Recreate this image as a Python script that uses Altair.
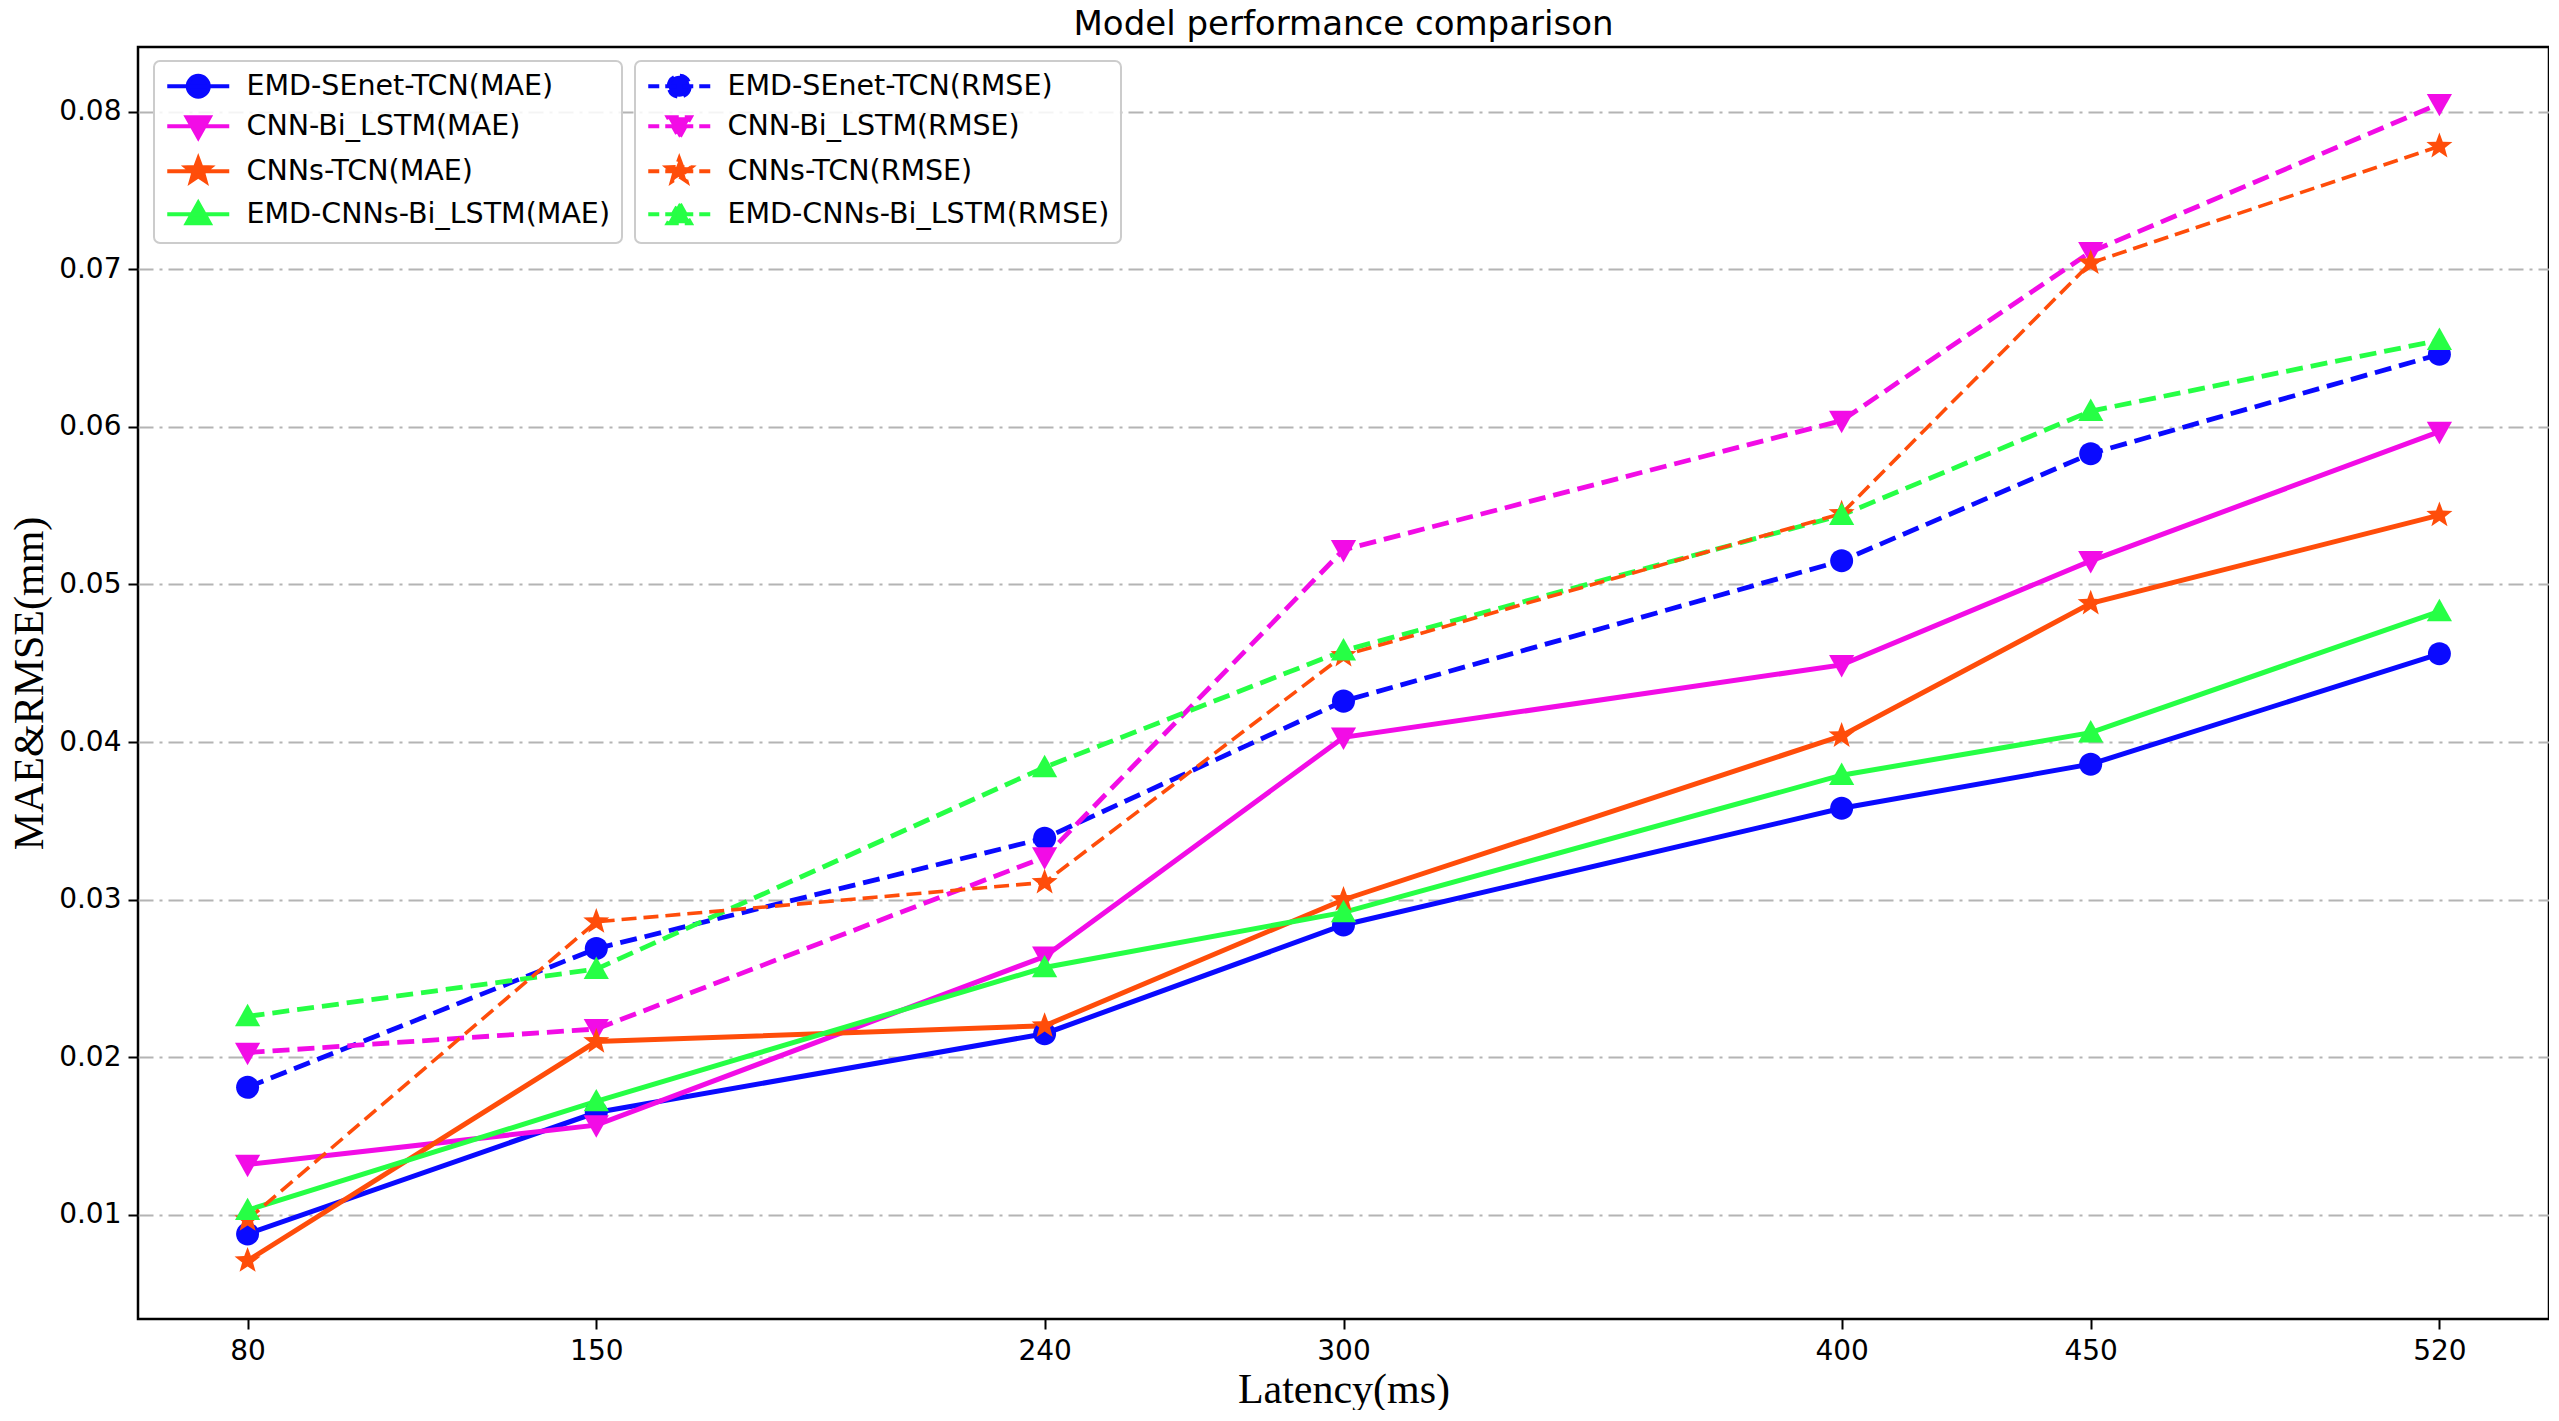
import math
import altair as alt
import pandas as pd

latency = [80, 150, 240, 300, 400, 450, 520]
models = ["EMD-SEnet-TCN", "CNN-Bi_LSTM", "CNNs-TCN", "EMD-CNNs-Bi_LSTM"]

mae_senet = [0.0088, 0.0165, 0.0215, 0.0284, 0.0358, 0.0386, 0.0456]
mae_cnnbilstm = [0.0132, 0.0157, 0.0264, 0.0403, 0.0449, 0.0515, 0.0597]
mae_cnnstcn = [0.0071, 0.0210, 0.0220, 0.0300, 0.0404, 0.0488, 0.0544]
mae_emdcnns = [0.0103, 0.0172, 0.0257, 0.0292, 0.0379, 0.0406, 0.0483]

rmse_senet = [0.0181, 0.0269, 0.0339, 0.0426, 0.0515, 0.0583, 0.0646]
rmse_cnnbilstm = [0.0203, 0.0218, 0.0327, 0.0522, 0.0604, 0.0711, 0.0805]
rmse_cnnstcn = [0.0097, 0.0286, 0.0311, 0.0455, 0.0545, 0.0704, 0.0778]
rmse_emdcnns = [0.0226, 0.0256, 0.0384, 0.0458, 0.0544, 0.0610, 0.0655]

mae_values = [mae_senet, mae_cnnbilstm, mae_cnnstcn, mae_emdcnns]
rmse_values = [rmse_senet, rmse_cnnbilstm, rmse_cnnstcn, rmse_emdcnns]

y_ticks = [0.01, 0.02, 0.03, 0.04, 0.05, 0.06, 0.07, 0.08]

colors = ["#0a0aff", "#f20ce6", "#ff4d0a", "#26ff45"]

rows = []
for m, mv, rv in zip(models, mae_values, rmse_values):
    for lat, a, b in zip(latency, mv, rv):
        rows.append({"latency": lat, "value": a, "metric": "MAE", "key": f"{m}(MAE)"})
        rows.append({"latency": lat, "value": b, "metric": "RMSE", "key": f"{m}(RMSE)"})
df = pd.DataFrame(rows)

mae_keys = [f"{m}(MAE)" for m in models]
rmse_keys = [f"{m}(RMSE)" for m in models]
all_keys = mae_keys + rmse_keys

# marker outlines (units of 10px when symbol size = 400)
def star_path(ro=1.25, ri=0.52):
    pts = []
    for i in range(10):
        r = ro if i % 2 == 0 else ri
        a = -math.pi / 2 + i * math.pi / 5
        pts.append(f"{r*math.cos(a):.3f},{r*math.sin(a):.3f}")
    return "M" + "L".join(pts) + "Z"

marker_paths = [
    "M-1.05,0A1.05,1.05,0,1,1,1.05,0A1.05,1.05,0,1,1,-1.05,0Z",
    "M-1.15,-0.9L1.15,-0.9L0,1.15Z",
    star_path(),
    "M-1.15,0.9L1.15,0.9L0,-1.15Z",
]
line_seg = "M-3.1,0L3.1,0"
handle_paths = [line_seg + p for p in marker_paths]

x_enc = alt.X(
    "latency:Q",
    scale=alt.Scale(domain=[58, 542], nice=False, zero=False),
    axis=alt.Axis(values=latency, format="d", title="Latency(ms)", grid=False),
)
y_enc = alt.Y(
    "value:Q",
    scale=alt.Scale(domain=[0.0034, 0.0841], nice=False, zero=False),
    axis=alt.Axis(values=y_ticks, format=".2f", title="MAE&RMSE(mm)", grid=True,
                  gridDash=[15, 6, 3, 6], gridColor="#b4b4b4", gridWidth=2),
)

base = alt.Chart(df)

mae_lines = base.transform_filter(alt.datum.metric == "MAE").mark_line(strokeWidth=5).encode(
    x=x_enc, y=y_enc,
    color=alt.Color("key:N", scale=alt.Scale(domain=mae_keys, range=colors), legend=None),
    order="latency:Q",
)

rmse_main_keys = [rmse_keys[0], rmse_keys[1], rmse_keys[3]]
rmse_main_colors = [colors[0], colors[1], colors[3]]
rmse_lines = base.transform_filter(
    alt.FieldOneOfPredicate(field="key", oneOf=rmse_main_keys)
).mark_line(strokeWidth=4.8, strokeDash=[17, 8]).encode(
    x=x_enc, y=y_enc,
    color=alt.Color("key:N", scale=alt.Scale(domain=rmse_main_keys, range=rmse_main_colors), legend=None),
    order="latency:Q",
)
rmse_thin = base.transform_filter(
    alt.FieldEqualPredicate(field="key", equal=rmse_keys[2])
).mark_line(strokeWidth=3.6, strokeDash=[15, 7]).encode(
    x=x_enc, y=y_enc,
    color=alt.Color("key:N", scale=alt.Scale(domain=[rmse_keys[2]], range=[colors[2]]), legend=None),
    order="latency:Q",
)

points = base.mark_point(filled=True, opacity=1, size=480).encode(
    x=x_enc, y=y_enc,
    color=alt.Color("key:N", scale=alt.Scale(domain=all_keys, range=colors + colors), legend=None),
    shape=alt.Shape("key:N", scale=alt.Scale(domain=all_keys, range=marker_paths + marker_paths), legend=None),
)

def make_legend(lx, dash=None):
    kw = dict(
        title=None, orient="none", legendX=lx, legendY=14, direction="vertical",
        symbolSize=400, symbolStrokeWidth=4, symbolOpacity=1, symbolOffset=19,
        labelOffset=34, labelFont="DejaVu Sans", labelFontSize=28.5, labelColor="black",
        labelLimit=800, rowPadding=4, padding=11,
        fillColor="rgba(255,255,255,0.85)", strokeColor="#cccccc", cornerRadius=6,
    )
    if dash is not None:
        kw["symbolDash"] = dash
    return alt.Legend(**kw)

leg_mae = make_legend(16)
leg_rmse = make_legend(497, dash=[11, 6])

legend_mae = base.transform_filter(alt.datum.metric == "MAE").mark_point(filled=True, opacity=0).encode(
    x=x_enc, y=y_enc,
    fill=alt.Fill("key:N", scale=alt.Scale(domain=mae_keys, range=colors), legend=leg_mae),
    stroke=alt.Stroke("key:N", scale=alt.Scale(domain=mae_keys, range=colors), legend=leg_mae),
    shape=alt.Shape("key:N", scale=alt.Scale(domain=mae_keys, range=handle_paths), legend=leg_mae),
)
legend_rmse = base.transform_filter(alt.datum.metric == "RMSE").mark_point(filled=True, opacity=0).encode(
    x=x_enc, y=y_enc,
    fill=alt.Fill("key:N", scale=alt.Scale(domain=rmse_keys, range=colors), legend=leg_rmse),
    stroke=alt.Stroke("key:N", scale=alt.Scale(domain=rmse_keys, range=colors), legend=leg_rmse),
    shape=alt.Shape("key:N", scale=alt.Scale(domain=rmse_keys, range=handle_paths), legend=leg_rmse),
)

chart = alt.layer(
    mae_lines, rmse_lines, rmse_thin, points, legend_mae, legend_rmse
).resolve_scale(
    color="independent", fill="independent", stroke="independent", shape="independent"
).properties(
    width=2411, height=1272,
    title=alt.Title("Model performance comparison", font="DejaVu Sans", fontSize=34,
                    fontWeight="normal", color="black", offset=5, frame="group"),
    padding={"left": 0, "top": 0, "right": 0, "bottom": 0},
    background="white",
).configure_view(
    stroke="black", strokeWidth=2.5
).configure_axis(
    domain=False, tickColor="black", tickWidth=2, tickSize=10,
    labelFont="DejaVu Sans", labelFontSize=28, labelColor="black", labelPadding=8,
    titleFont="Liberation Serif", titleFontSize=42, titleFontWeight="normal", titleColor="black",
).configure_axisY(
    titlePadding=7, labelPadding=7
).configure_axisX(
    titlePadding=4
).configure_legend(
    strokeWidth=2
)

chart.save("out.html", embed_options={"renderer": "svg", "actions": False})
